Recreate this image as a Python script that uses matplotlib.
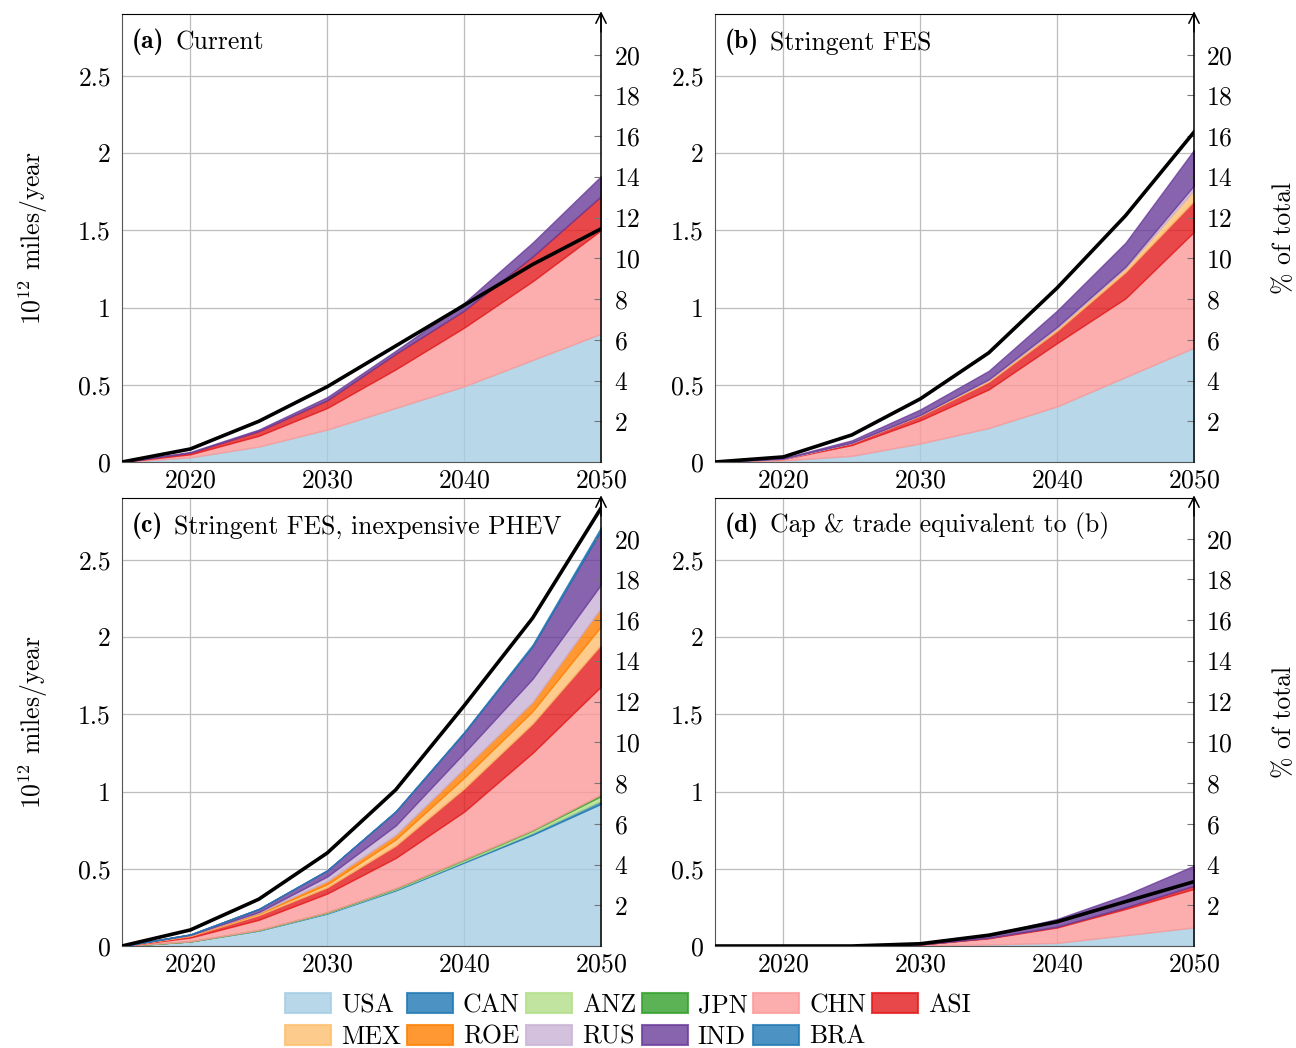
import matplotlib
matplotlib.use('Agg')
import matplotlib.pyplot as plt
from matplotlib.patches import Patch

plt.rcParams['font.family'] = ['cmr10', 'DejaVu Serif']
plt.rcParams['mathtext.fontset'] = 'cm'
plt.rcParams['axes.formatter.use_mathtext'] = True
plt.rcParams['font.size'] = 18.5

years = [2015, 2020, 2025, 2030, 2035, 2040, 2045, 2050]
regions = ['USA', 'CAN', 'ANZ', 'JPN', 'CHN', 'ASI', 'MEX', 'ROE', 'RUS', 'IND', 'BRA']
colors = ['#a6cee3', '#1f78b4', '#b2df8a', '#33a02c', '#fb9a99', '#e31a1c',
          '#fdbf6f', '#ff7f00', '#cab2d6', '#6a3d9a', '#1f78b4']

# 10^12 miles/year by region (stacked)
current = {
    'USA': [0, 0.03, 0.10, 0.21, 0.35, 0.49, 0.66, 0.83],
    'CHN': [0, 0.02, 0.07, 0.14, 0.25, 0.38, 0.51, 0.67],
    'ASI': [0, 0.01, 0.03, 0.05, 0.10, 0.11, 0.16, 0.22],
    'IND': [0, 0.005, 0.01, 0.02, 0.02, 0.05, 0.09, 0.13],
}
stringent = {
    'USA': [0, 0.01, 0.04, 0.12, 0.22, 0.36, 0.55, 0.74],
    'CHN': [0, 0.01, 0.07, 0.15, 0.25, 0.41, 0.51, 0.75],
    'ASI': [0, 0.002, 0.015, 0.03, 0.05, 0.08, 0.17, 0.20],
    'MEX': [0, 0, 0, 0.005, 0.01, 0.015, 0.025, 0.07],
    'RUS': [0, 0, 0, 0, 0.005, 0.01, 0.01, 0.03],
    'IND': [0, 0.003, 0.015, 0.035, 0.055, 0.105, 0.155, 0.23],
}
phev = {
    'USA': [0, 0.03, 0.10, 0.21, 0.36, 0.54, 0.72, 0.92],
    'CAN': [0, 0, 0.002, 0.004, 0.006, 0.008, 0.012, 0.02],
    'ANZ': [0, 0, 0.002, 0.004, 0.006, 0.01, 0.015, 0.03],
    'JPN': [0, 0, 0, 0.001, 0.002, 0.003, 0.004, 0.01],
    'CHN': [0, 0.025, 0.066, 0.121, 0.196, 0.309, 0.499, 0.70],
    'ASI': [0, 0.01, 0.03, 0.04, 0.08, 0.15, 0.19, 0.27],
    'MEX': [0, 0.003, 0.01, 0.02, 0.04, 0.07, 0.08, 0.12],
    'ROE': [0, 0.002, 0.005, 0.02, 0.03, 0.06, 0.06, 0.12],
    'RUS': [0, 0.002, 0.005, 0.03, 0.06, 0.10, 0.15, 0.15],
    'IND': [0, 0.003, 0.02, 0.04, 0.09, 0.13, 0.21, 0.35],
    'BRA': [0, 0, 0, 0, 0.003, 0.005, 0.01, 0.02],
}
cap_trade = {
    'USA': [0, 0, 0, 0.003, 0.01, 0.02, 0.07, 0.12],
    'CHN': [0, 0, 0, 0.007, 0.04, 0.10, 0.17, 0.25],
    'ASI': [0, 0, 0, 0, 0.003, 0.005, 0.01, 0.02],
    'IND': [0, 0, 0, 0.005, 0.017, 0.05, 0.08, 0.13],
}

# share of total (%), right axis
pct_current = [0, 0.64, 2.0, 3.7, 5.7, 7.7, 9.7, 11.45]
pct_stringent = [0, 0.25, 1.33, 3.1, 5.36, 8.55, 12.1, 16.2]
pct_phev = [0, 0.79, 2.3, 4.57, 7.67, 11.8, 16.1, 21.5]
pct_cap = [0, 0, 0, 0.11, 0.53, 1.19, 2.18, 3.16]

panels = [
    ('(a)', 'Current', current, pct_current),
    ('(b)', 'Stringent FES', stringent, pct_stringent),
    ('(c)', 'Stringent FES, inexpensive PHEV', phev, pct_phev),
    ('(d)', 'Cap & trade equivalent to (b)', cap_trade, pct_cap),
]

fig = plt.figure(figsize=(12.96, 10.48), dpi=100)
W, H = 1296, 1048
boxes = [(122, 14), (715, 14), (122, 498), (715, 498)]
aw, ah = 479, 448

for i, (tag, title, data, pct) in enumerate(panels):
    x0, y0 = boxes[i]
    ax = fig.add_axes([x0 / W, 1 - (y0 + ah) / H, aw / W, ah / H])
    base = [0.0] * len(years)
    for reg, col in zip(regions, colors):
        if reg not in data:
            continue
        top = [b + v for b, v in zip(base, data[reg])]
        ax.fill_between(years, base, top, facecolor=col, edgecolor=col,
                        alpha=0.8, lw=1.0, zorder=2)
        base = top

    ax.set_xlim(2015, 2050)
    ax.set_ylim(0, 2.9)
    ax.set_xticks([2020, 2030, 2040, 2050])
    ax.set_yticks([0, 0.5, 1, 1.5, 2, 2.5])
    ax.set_yticklabels(['0', '0.5', '1', '1.5', '2', '2.5'])
    ax.grid(True, color='#bdbdbd', lw=0.9, zorder=1)
    ax.set_axisbelow(True)
    ax.tick_params(length=0, pad=8)
    ax.tick_params(axis='x', pad=5)
    for s in ['left', 'bottom']:
        ax.spines[s].set_color('#555555')
    ax.spines['top'].set_color('black')
    ax.spines['right'].set_visible(False)

    # bold panel tag followed by the scenario name
    t1 = ax.text(0.02, 0.968, tag, transform=ax.transAxes, ha='left', va='top',
                 family='cmb10')
    ax.annotate(title, xy=(1, 0), xycoords=t1, xytext=(8, 0),
                textcoords='offset points', ha='left', va='bottom')

    ax2 = ax.twinx()
    ax2.plot(years, pct, color='black', lw=2.6, zorder=5, solid_joinstyle='miter')
    ax2.set_ylim(0, 22)
    ax2.set_yticks(range(2, 21, 2))
    ax2.tick_params(axis='y', direction='in', length=5, color='#777777', pad=9)
    for s in ['left', 'top', 'bottom']:
        ax2.spines[s].set_visible(False)
    ax2.spines['right'].set_color('black')
    ax2.spines['right'].set_linewidth(1.1)
    ax2.annotate('', xy=(1, 1.006), xytext=(1, 0.96), xycoords='axes fraction',
                 arrowprops=dict(arrowstyle='->', lw=1.1, color='black',
                                 shrinkA=0, shrinkB=0))

    if i % 2 == 0:
        ax.set_ylabel(r'$10^{12}$ miles/year', labelpad=20)
    else:
        ax2.set_ylabel('% of total', labelpad=28)

handles = [Patch(facecolor=c, edgecolor=c, alpha=0.8, lw=1.5) for c in colors]
order = [0, 6, 1, 7, 2, 8, 3, 9, 4, 10, 5]
fig.legend([handles[k] for k in order], [regions[k] for k in order],
           loc='center', bbox_to_anchor=(628 / W, 1 - 1021 / H), ncol=6,
           frameon=False, fontsize=18.5, handlelength=1.8, handleheight=0.85,
           handletextpad=0.38, columnspacing=0.22, labelspacing=0.3,
           borderpad=0.1)

fig.savefig('out.png', dpi=100)
